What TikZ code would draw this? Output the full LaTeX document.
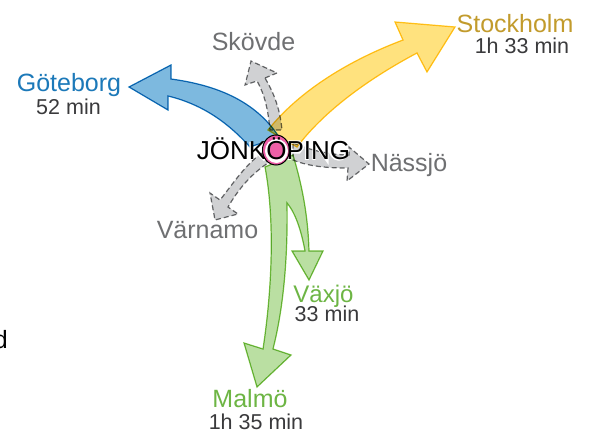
\documentclass[tikz,border=0pt]{standalone}
\usepackage{fontspec}
\setmainfont{Liberation Sans}
\usetikzlibrary{calc}
\definecolor{yelF}{HTML}{FFE27E}\definecolor{yelD}{HTML}{FFCB1F}
\definecolor{bluF}{HTML}{7DB9DF}\definecolor{bluD}{HTML}{0F78BE}
\definecolor{grnF}{HTML}{BADFA2}\definecolor{grnD}{HTML}{79C143}
\definecolor{gryF}{HTML}{D0D1D3}\definecolor{gryD}{HTML}{6D6E70}
\definecolor{hubP}{HTML}{EE5FA7}
\definecolor{labY}{HTML}{C29B2C}\definecolor{labB}{HTML}{1C79B9}
\definecolor{labG}{HTML}{6DB544}\definecolor{labK}{HTML}{6F7072}\definecolor{labT}{HTML}{3A3A3C}
\tikzset{
 yelarrow/.style={fill=yelF,draw=yelD,line width=1.2pt,line join=miter},
 bluarrow/.style={fill=bluF,draw=bluD,line width=1.2pt,line join=miter},
 grnarrow/.style={fill=grnF,draw=grnD,line width=1.2pt,line join=miter},
 gryarrow/.style={fill=gryF,draw=gryD,line width=1.2pt,dash pattern=on 5pt off 3pt,line join=miter},
 city/.style={anchor=base,inner sep=0pt,font=\fontsize{25}{25}\selectfont},
 time/.style={anchor=base,inner sep=0pt,text=labT,font=\fontsize{21.5}{22}\selectfont},
 halo/.style={white,line width=3.2pt},
}
\begin{document}
\begin{tikzpicture}[x=1pt,y=-1pt]
\useasboundingbox (0,0) rectangle (592,430);
\fill[white] (0,0) rectangle (592,430);
\begin{scope}[blend mode=multiply]
\draw[gryarrow] (265,78) -- (277,73) -- (251,61) -- (245,85) -- (257,81)
  .. controls (265,95) and (268,110) .. (270,130) -- (282,130)
  .. controls (280,110) and (275,95) .. (265,78) -- cycle;
\draw[gryarrow] (262,153) .. controls (245,165) and (232,185) .. (220,200)
  -- (210,193) -- (215,220) -- (238,214) -- (228,207)
  .. controls (238,190) and (250,175) .. (268,163) -- cycle;
\draw[gryarrow] (293,143) .. controls (310,150) and (330,155) .. (349,155)
  -- (349,147) -- (369,164) -- (347,181) -- (348,168)
  .. controls (330,168) and (310,167) .. (293,160) -- cycle;
\draw[yelarrow] (268,130) .. controls (300,90) and (350,60) .. (403,40)
  -- (395,22) -- (455,27) -- (427,72) -- (417,53)
  .. controls (370,78) and (325,110) .. (297,147) -- cycle;
\draw[bluarrow] (279,137) .. controls (255,100) and (215,85) .. (171,79)
  -- (171,65) -- (129,87) -- (168,110) -- (168,96)
  .. controls (205,105) and (230,125) .. (250,147) -- cycle;
\draw[grnarrow] (265,167) .. controls (275,220) and (272,290) .. (263,349)
  -- (244,343) -- (257,387) -- (291,355) -- (273,349)
  .. controls (283,310) and (288,260) .. (287,203)
  .. controls (297,215) and (302,235) .. (305,251)
  -- (292,251) -- (309,280) -- (323,251) -- (309,251)
  .. controls (308,215) and (302,185) .. (293,155) -- cycle;
\end{scope}
% halo behind the letters over the arrows
\draw[halo] (251,142) -- (251,160) (264,142) -- (255,151) -- (265,160);
\draw[halo] (289.5,160) -- (289.5,142) -- (299,142) -- (303,147) -- (299,152) -- (289.5,152);
\draw[halo] (307,142) -- (307,160);
\draw[halo] (314,160) -- (314,142) -- (327,160) -- (327,142);
\draw[halo] (347,147) arc (-20:-340:8.5 and 9);
% hub
\draw[black,fill=hubP,line width=1pt] (276,150) ellipse (13.5 and 15);
\fill[white] (276.5,151) ellipse (11.5 and 12);
\fill[hubP] (276.5,151) ellipse (7 and 8.5);
\node[inner sep=0pt,anchor=base,text=black,font=\fontsize{26}{26}\selectfont] (hub) at (273.5,160) {JÖNKÖPING};
% labels
\node[city,text=labY] (sto) at (515,33) {Stockholm};
\node[time] (stot) at (522,54) {1h 33 min};
\node[city,text=labB] (got) at (69,92) {Göteborg};
\node[time] (gott) at (68.5,115) {52 min};
\node[city,text=labK] (sko) at (253.5,51) {Skövde};
\node[city,text=labK] (nas) at (409,172) {Nässjö};
\node[city,text=labK] (var) at (207.5,239) {Värnamo};
\node[city,text=labG,font=\fontsize{24}{24}\selectfont] (vax) at (323.5,303) {Växjö};
\node[time] (vaxt) at (327,322) {33 min};
\node[city,text=labG] (mal) at (250,407) {Malmö};
\node[time] (malt) at (256,429) {1h 35 min};
\node[anchor=base east,inner sep=0pt,text=black,font=\fontsize{25}{25}\selectfont] (frag) at (8,349) {d};
\end{tikzpicture}
\end{document}
